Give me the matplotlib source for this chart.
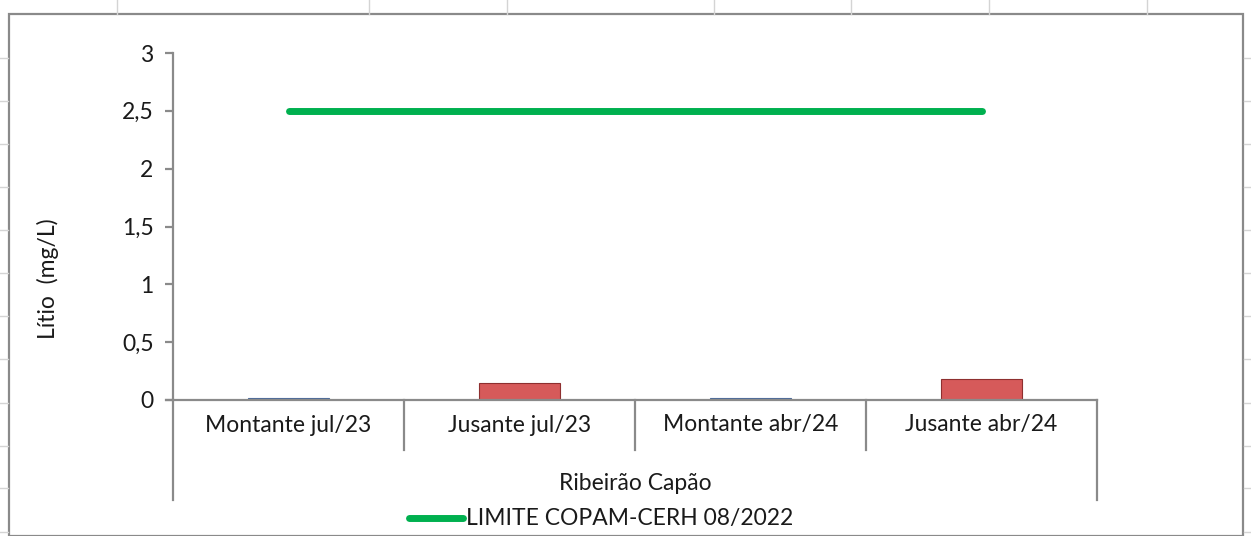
import matplotlib
matplotlib.use("Agg")
import matplotlib.pyplot as plt
from matplotlib.lines import Line2D
from matplotlib.patches import Rectangle
import matplotlib.transforms as mtransforms

plt.rcParams['font.family'] = ['Lato', 'DejaVu Sans']

# ---- data ----
categories = ['Montante jul/23', 'Jusante jul/23', 'Montante abr/24', 'Jusante abr/24']
lithium = [0.02, 0.15, 0.02, 0.18]
limit = [2.5, 2.5, 2.5, 2.5]
bar_colors = ['#5B80B8', '#D65A5A', '#5B80B8', '#D65A5A']
group_label = 'Ribeirão Capão'
legend_label = 'LIMITE COPAM-CERH 08/2022'
y_label = 'Lítio  (mg/L)'
y_ticks = [0, 0.5, 1, 1.5, 2, 2.5, 3]
y_ticklabels = ['0', '0,5', '1', '1,5', '2', '2,5', '3']

W, H = 1251, 536
fig = plt.figure(figsize=(W / 100, H / 100), dpi=100)
fig.patch.set_facecolor('white')

FS = 16.5


def fx(px):
    return px / W


def fy(py):
    return 1 - py / H


# sheet gridlines outside chart
grid_c = '#d4d4d4'
for gx in [117, 369, 507, 714, 851, 989, 1147]:
    fig.add_artist(Line2D([fx(gx), fx(gx)], [fy(0), fy(14)], color=grid_c, lw=1))
for gy in [58, 101, 144, 187, 230, 273, 316, 359, 403, 446, 488, 532]:
    fig.add_artist(Line2D([fx(0), fx(8)], [fy(gy), fy(gy)], color=grid_c, lw=1))
    fig.add_artist(Line2D([fx(1244), fx(1251)], [fy(gy), fy(gy)], color=grid_c, lw=1))

# chart border
fig.add_artist(Rectangle((fx(9), fy(536)), fx(1243) - fx(9), fy(14) - fy(536),
                         fill=False, edgecolor='#8a8a8a', lw=1.6))

# axes
ax_l, ax_r, ax_t, ax_b = 173, 1097, 53, 400
ax = fig.add_axes([fx(ax_l), fy(ax_b), fx(ax_r) - fx(ax_l), fy(ax_t) - fy(ax_b)])
ax.set_facecolor('none')
x = list(range(len(categories)))
ax.bar(x, lithium, width=0.35, color=bar_colors,
       edgecolor=['#4a6a9a', '#8e2f2f', '#4a6a9a', '#8e2f2f'],
       linewidth=0.8, zorder=2)
ax.plot(x, limit, color='#00B04F', lw=5, solid_capstyle='round', zorder=3)
ax.set_xlim(-0.5, len(categories) - 0.5)
ax.set_ylim(0, 3)
ax.set_yticks(y_ticks)
ax.set_yticklabels(y_ticklabels, fontsize=FS, color='#1a1a1a')
ax.tick_params(axis='y', length=6, width=1.6, color='#8a8a8a', direction='out', pad=8)
ax.set_xticks([])
for s in ['top', 'right']:
    ax.spines[s].set_visible(False)
ax.spines['left'].set_color('#8a8a8a')
ax.spines['left'].set_linewidth(1.6)
ax.spines['bottom'].set_visible(False)

# category axis drawn in pixel positions
axis_c = '#8a8a8a'
fig.add_artist(Line2D([fx(166), fx(ax_r)], [fy(ax_b), fy(ax_b)], color=axis_c, lw=1.6))
bounds = [ax_l + i * (ax_r - ax_l) / len(categories) for i in range(len(categories) + 1)]
for i, b in enumerate(bounds):
    bottom = 500 if i in (0, len(categories)) else 450
    fig.add_artist(Line2D([fx(b), fx(b)], [fy(ax_b), fy(bottom)], color=axis_c, lw=1.6))

trans = mtransforms.blended_transform_factory(ax.transData, fig.transFigure)
for xi, lab in zip(x, categories):
    ax.text(xi, fy(425), lab, transform=trans, ha='center', va='center',
            fontsize=FS, color='#1a1a1a', clip_on=False)
fig.text(fx((ax_l + ax_r) / 2), fy(483), group_label, ha='center', va='center',
         fontsize=FS, color='#1a1a1a')

# y label
fig.text(fx(48), fy(279), y_label, rotation=90, ha='center', va='center',
         fontsize=FS, color='#1a1a1a')

# legend
fig.add_artist(Line2D([fx(409), fx(463)], [fy(518), fy(518)], color='#00B04F', lw=5,
                      solid_capstyle='round'))
fig.text(fx(466), fy(518), legend_label, ha='left', va='center', fontsize=FS, color='#1a1a1a')

fig.savefig('out.png', dpi=100, facecolor='white')
